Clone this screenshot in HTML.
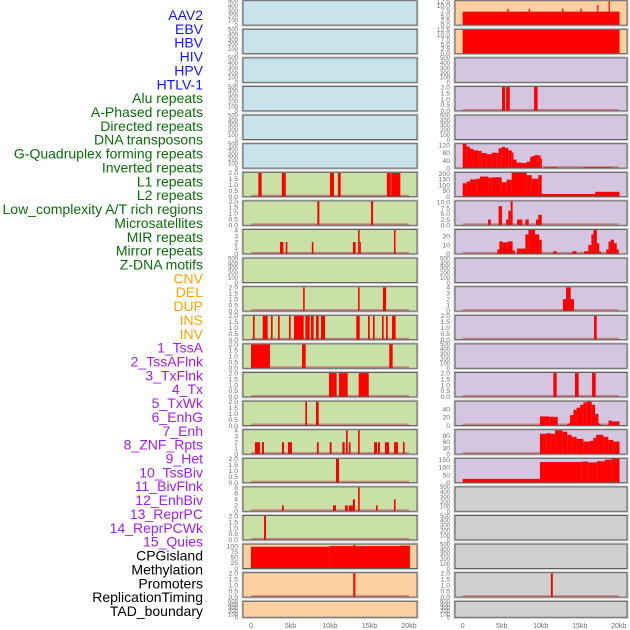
<!DOCTYPE html>
<html><head><meta charset="utf-8"><style>
html,body{margin:0;padding:0;background:#fff;width:630px;height:630px;overflow:hidden}
svg{display:block;font-family:"Liberation Sans",sans-serif}
</style></head><body>
<svg id="chart" width="630" height="630" viewBox="0 0 630 630" xmlns="http://www.w3.org/2000/svg"></svg>
<script>
const trackLabels = ["AAV2","EBV","HBV","HIV","HPV","HTLV-1","Alu repeats","A-Phased repeats","Directed repeats","DNA transposons","G-Quadruplex forming repeats","Inverted repeats","L1 repeats","L2 repeats","Low_complexity A/T rich regions","Microsatellites","MIR repeats","Mirror repeats","Z-DNA motifs","CNV","DEL","DUP","INS","INV","1_TssA","2_TssAFlnk","3_TxFlnk","4_Tx","5_TxWk","6_EnhG","7_Enh","8_ZNF_Rpts","9_Het","10_TssBiv","11_BivFlnk","12_EnhBiv","13_ReprPC","14_ReprPCWk","15_Quies","CPGisland","Methylation","Promoters","ReplicationTiming","TAD_boundary"];
const labelGroups = [6,13,5,15,5];
const xTicks = [0,5,10,15,20];
const xTickLabels = ["0","5kb","10kb","15kb","20kb"];
const ticksEmpty = [0,100,200,300,400,500];
const ticks2 = [0,0.5,1,1.5,2];
const ticks4 = [0,1,2,3,4];
const ticks8 = [0,2,4,6,8];
// segments: [startKb, endKb, value]
const L6 = [[0.93,1.35,2],[3.9,4.4,2],[10.0,10.5,2],[11.0,11.35,2],[17.2,17.7,2],[17.75,18.9,2]];
const L7 = [[8.4,8.65,2],[15.2,15.45,2]];
const L8 = [[3.67,4.1,2],[4.4,4.6,2],[7.7,7.9,2],[12.9,13.25,2],[13.55,13.75,4],[13.75,13.9,2],[18.1,18.3,4]];
const L10 = [[6.6,6.8,2],[13.55,13.75,2],[16.7,17.1,2]];
const L11 = [[0.25,0.46,2],[1.48,2.11,2],[2.53,2.74,2],[3.42,3.63,2],[4.81,5.02,2],[5.44,6.67,2],[6.88,7.43,2],[7.59,7.93,2],[8.23,8.57,2],[8.86,9.37,2],[13.33,13.76,2],[14.81,15.02,2],[15.44,15.65,2],[16.58,16.79,2],[17.09,17.3,2],[17.85,18.31,2]];
const L12 = [[0,2.4,2],[6.46,6.92,2],[17.5,17.93,2]];
const L13 = [[9.87,10.84,2],[11.14,12.24,2],[13.63,14.9,2]];
const L14 = [[6.88,7.09,2],[8.23,8.57,2]];
const L15 = [[0.5,1.14,2],[1.39,1.65,2],[3.92,4.18,2],[4.68,5.19,2],[8.35,8.57,2],[9.96,10.21,2],[11.56,11.86,2],[12.03,12.24,4],[12.4,12.6,2],[13.55,13.76,4],[15.57,15.95,2],[16.08,16.33,2],[16.96,17.47,2],[18.1,18.6,2],[19.24,19.45,2]];
const L16 = [[10.76,11.14,2]];
const L17 = [[3.92,4.14,2],[10.38,10.76,2],[11.9,12.24,2],[12.4,12.9,2],[12.9,13.16,4],[13.55,13.76,8],[15.82,16.03,2],[18.1,18.3,4]];
const L18 = [[1.65,1.9,2]];
const L19 = [[0,9.9,97],[9.9,20.1,100],[12.95,13.2,105],[18.9,20.1,102]];
const L20 = [[12.95,13.2,2]];
const R0 = [[0,20.1,7],[5.75,5.9,8.5],[8.45,8.6,8.5],[12.75,12.9,8.5],[15.1,15.25,8.5],[17.25,17.4,10.5],[18.7,18.85,12.5]];
const R1 = [[0,20.1,12.5]];
const R3 = [[5.04,5.43,2],[5.56,6.03,2],[9.15,9.6,2]];
const R5 = [[0,0.5,127],[0.5,0.94,113],[0.94,1.37,101],[1.37,2.0,93],[2.0,2.44,90],[2.44,3.08,79],[3.08,3.72,73],[3.72,4.36,81],[4.36,4.6,79],[4.6,5.0,104],[5.0,5.43,111],[5.43,5.85,106],[5.85,6.28,93],[6.28,6.5,82],[6.5,6.9,45],[6.9,7.56,29],[7.56,8.2,27],[8.2,8.63,34],[8.63,8.85,57],[8.85,9.2,63],[9.2,9.7,68],[9.7,10.0,66],[10.0,10.13,50],[10.55,12.18,5],[15.4,19.2,5],[19.2,20,1]];
const R6 = [[0,0.5,116],[0.5,0.94,131],[0.94,1.8,149],[1.8,2.22,155],[2.22,3.29,173],[3.29,3.72,164],[3.72,5.0,167],[5.0,5.64,125],[5.64,6.28,146],[6.28,8.2,209],[8.2,8.85,185],[8.85,9.7,155],[9.7,10.13,185],[10.13,17,24],[17,20.1,42]];
const R7 = [[3.25,3.6,2.5],[4.6,5.04,8.3],[5.56,5.85,2.5],[5.85,6.15,6.3],[6.15,6.4,10.5],[6.97,7.65,2.5],[8.03,8.46,2.5],[9.4,9.7,2.5],[9.7,10.13,4.6]];
const R8 = [[4.44,4.7,5],[4.7,5.13,14],[5.13,5.77,13],[5.77,6.4,14],[6.4,6.67,4],[6.97,8.03,6],[8.03,8.42,22],[8.42,9.27,27],[9.27,9.8,22],[9.8,10.13,16],[11.6,12.05,3],[14.06,14.6,3],[15.55,16.1,3],[16.1,16.5,10],[16.5,16.75,22],[16.75,17.2,27],[17.2,17.5,12],[17.5,17.7,3],[18.4,18.7,5],[18.7,19.0,14],[19.0,19.4,16],[19.4,19.75,12],[19.75,20,5]];
const R10 = [[12.86,14.27,2],[13.25,13.85,4]];
const R11 = [[16.84,17.18,2]];
const R13 = [[11.62,12.05,2],[14.4,14.87,2],[16.58,17.05,2]];
const R14 = [[9.9,11.1,22],[11.1,12.18,21],[13.4,13.76,5],[13.76,14.2,25],[14.2,14.6,38],[14.6,15.04,43],[15.04,15.47,50],[15.47,15.9,56],[15.9,16.54,58],[16.54,16.97,50],[16.97,17.4,28],[17.4,17.7,5],[18.7,19.1,12],[19.1,20.1,10]];
const R15 = [[9.9,10.77,100],[10.77,11.3,103],[11.3,11.84,100],[11.84,12.82,117],[12.82,13.4,110],[13.4,13.97,95],[13.97,14.6,85],[14.6,15.47,75],[15.47,16.3,62],[16.3,16.75,65],[16.75,17.1,80],[17.1,18.03,95],[18.03,18.67,85],[18.67,19.3,70],[19.3,20.1,62]];
const R16 = [[0,9.9,25],[9.9,15.26,135],[15.26,16.1,138],[16.1,17.2,132],[17.2,18.25,140],[18.25,19.1,150],[19.1,20.1,158]];
const R20 = [[11.3,11.55,2]];

const BG = {blue:"#c8e3eb",green:"#c9e1a6",orange:"#fecf9f",purple:"#d4c5e1",grey:"#d0d0d0"};
const P = (bg,data,ymax,ticks,tl)=>({bg,data,ymax,ticks,tl});
const E = bg => P(bg,null,500,ticksEmpty,null);
const leftPanels = [E("blue"),E("blue"),E("blue"),E("blue"),E("blue"),E("blue"),
  P("green",L6,2.05,ticks2,"f1"),P("green",L7,2.05,ticks2,"f1"),P("green",L8,4.1,ticks4,"f0"),E("green"),
  P("green",L10,2.05,ticks2,"f1"),P("green",L11,2.05,ticks2,"f1"),P("green",L12,2.05,ticks2,"f1"),P("green",L13,2.05,ticks2,"f1"),
  P("green",L14,2.05,ticks2,"f1"),P("green",L15,4.1,ticks4,"f0"),P("green",L16,2.05,ticks2,"f1"),P("green",L17,8.2,ticks8,"f0"),
  P("green",L18,2.05,ticks2,"f1"),P("orange",L19,109,[0,25,50,75,100],"f0"),P("orange",L20,2.05,ticks2,"f1"),E("orange")];
const rightPanels = [P("orange",R0,12.7,[0,2.5,5,7.5,10,12.5],"f1"),P("orange",R1,12.7,[0,2.5,5,7.5,10,12.5],"f1"),E("purple"),
  P("purple",R3,2.05,ticks2,"f1"),E("purple"),P("purple",R5,128,[0,40,80,120],"f0"),P("purple",R6,210,[0,50,100,150,200],"f0"),
  P("purple",R7,10.6,[0,2.5,5,7.5,10],"f1"),P("purple",R8,27.5,[0,10,20],"f0"),E("purple"),P("purple",R10,4.1,ticks4,"f0"),
  P("purple",R11,2.05,ticks2,"f1"),E("purple"),P("purple",R13,2.05,ticks2,"f1"),P("purple",R14,59,[0,20,40],"f0"),
  P("purple",R15,120,[0,30,60,90],"f0"),P("purple",R16,159,[0,50,100,150],"f0"),E("grey"),E("grey"),E("grey"),
  P("grey",R20,2.05,ticks2,"f1"),E("grey")];

const svg = document.getElementById("chart");
const NS = "http://www.w3.org/2000/svg";
function mk(tag, attrs, parent){const e=document.createElementNS(NS,tag);for(const k in attrs)e.setAttribute(k,attrs[k]);(parent||svg).appendChild(e);return e;}

// labels
const labelColors = ["#1414ff","#0b6e0b","#ffa500","#a020f0","#000000"];
let gi=0, cnt=0;
trackLabels.forEach((t,i)=>{
  while(cnt>=labelGroups[gi]){cnt-=labelGroups[gi];gi++;}
  cnt++;
  const e = mk("text",{x:203,y:15+i*13.86+5,"text-anchor":"end","font-size":"14",fill:labelColors[gi]});
  e.textContent=t;
  
  
});

function rowTop(i){return 0.7+i*28.6;}
function rowH(i){return i===21?16:24.4;}
function drawCol(panels, px0, pw, xs, side){
  panels.forEach((p,i)=>{
    const top=rowTop(i), h=rowH(i), bot=top+h;
    const g = mk("g",{});
    
    
    mk("rect",{x:px0-1,y:top-1,width:pw+2,height:h+2,fill:"none",stroke:"#c8c8c8","stroke-width":1},g);
    mk("rect",{x:px0,y:top,width:pw,height:h,fill:BG[p.bg]},g);
    const ys = v => bot - v/p.ymax*h;
    if(p.data){
      mk("rect",{x:xs(0),y:bot-2,width:xs(20)-xs(0),height:2,fill:"#c87070",opacity:0.8},g);
      p.data.forEach(d=>{
        const x1=xs(d[0]), x2=xs(d[1]), y=Math.max(top,ys(d[2]));
        const b = mk("rect",{x:x1,y:y,width:Math.max(1.2,x2-x1),height:bot-y,fill:"#ff0000"},g);
        
        
      });
    }
    mk("rect",{x:px0,y:top,width:pw,height:h,fill:"none",stroke:"#606060","stroke-width":1},g);
    const fs = p.data?6.8:6;
    p.ticks.forEach(t=>{
      const y=ys(t);
      if(y<top-3) return;
      const e=mk("text",{x:px0-5,y:y+2.3,"text-anchor":"end","font-size":fs,fill:"#707070"},g);
      e.textContent = p.tl==="f1"? t.toFixed(1) : String(t);
      
      
    });
  });
  xTicks.forEach((t,k)=>{
    const e=mk("text",{x:xs(t),y:628,"text-anchor":"middle","font-size":"7",fill:"#707070"});
    e.textContent=xTickLabels[k];
    
    
  });
}
drawCol(leftPanels,243,174,kb=>251+kb*7.9,"left");
drawCol(rightPanels,455,172,kb=>462.7+kb*7.8,"right");
</script>
</body></html>
